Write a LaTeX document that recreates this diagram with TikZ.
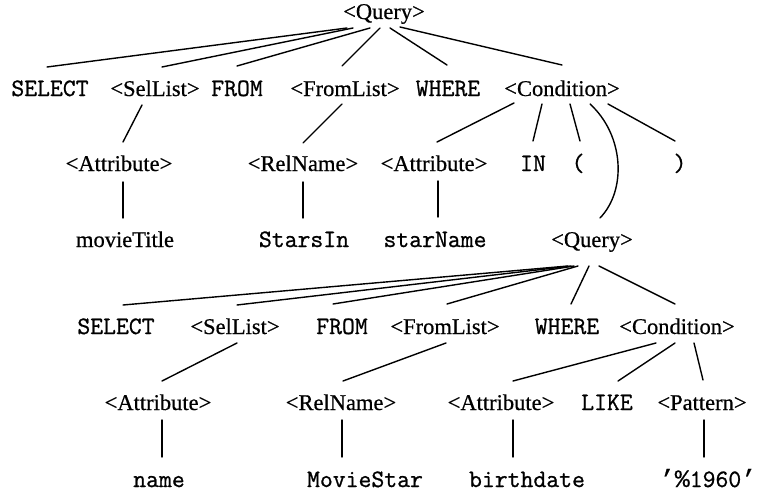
\documentclass[tikz,border=0pt]{standalone}
\usepackage{fontspec}
\setmainfont{Liberation Serif}[FakeBold=0.6]
\setmonofont{Latin Modern Mono}[FakeBold=0.9]
\newfontfamily\limono{Liberation Mono}[FakeBold=0.5]
\usetikzlibrary{calc}
\tikzset{
  nt/.style={inner sep=0pt, anchor=base, font=\fontsize{22.5}{27}\selectfont},
  tt/.style={inner sep=0pt, anchor=base, font=\fontsize{25}{27}\selectfont\ttfamily},
  br/.style={line width=1.4pt, line cap=round}
}
\newcommand\E[6]{\draw[br] ($(#1.base)+(#2)$) -- ($(#4.base)+(#5)$);}
\begin{document}
\begin{tikzpicture}[x=1pt,y=-1pt]
\useasboundingbox (0,0) rectangle (770,500);
% row 0
\node[nt] (q0) at (384,19) {<Query>};
% row 1
\node[tt] (s1) at (50,96) {SELECT};
\node[nt] (sl1) at (155,96) {<SelList>};
\node[tt] (f1) at (237,96) {FROM};
\node[nt] (fl1) at (345,96) {<FromList>};
\node[tt] (w1) at (448,96) {WHERE};
\node[nt] (c1) at (562,96) {<Condition>};
% row 2
\node[nt] (a2) at (119,171) {<Attribute>};
\node[nt] (r2) at (303,171) {<RelName>};
\node[nt] (a2b) at (434,171) {<Attribute>};
\node[tt] (in2) at (533,171) {IN};
\node[tt] (lp2) at (578,171) {(};
\node[tt] (rp2) at (680,171) {)};
% row 3
\node[nt] (mt3) at (125,247) {movieTitle};
\node[tt] (si3) at (304,247) {StarsIn};
\node[tt] (sn3) at (435,247) {starName};
\node[nt] (q3) at (592,247) {<Query>};
% row 4
\node[tt] (s4) at (116,334) {SELECT};
\node[nt] (sl4) at (235,334) {<SelList>};
\node[tt] (f4) at (342,334) {FROM};
\node[nt] (fl4) at (445,334) {<FromList>};
\node[tt] (w4) at (567,334) {WHERE};
\node[nt] (c4) at (677,334) {<Condition>};
% row 5
\node[nt] (a5) at (158,410) {<Attribute>};
\node[nt] (r5) at (341,410) {<RelName>};
\node[nt] (a5b) at (501,410) {<Attribute>};
\node[tt] (lk5) at (607,410) {LIKE};
\node[nt] (p5) at (702,410) {<Pattern>};
% row 6
\node[tt] (n6) at (159,487) {name};
\node[tt] (ms6) at (365,487) {MovieStar};
\node[tt] (bd6) at (527,487) {birthdate};
\node[tt] (pt6) at (708,487) {{\limono ’\%}1960{\limono ’}};
% edges
\E{q0}{-37,9}{}{s1}{-3,-29}{}
\E{q0}{-31,9}{}{sl1}{7,-29}{}
\E{q0}{-14,9}{}{f1}{0,-30}{}
\E{q0}{-4,9}{}{fl1}{-3,-30}{}
\E{q0}{6,9}{}{w1}{-1,-31}{}
\E{q0}{16,8}{}{c1}{0,-31}{}
\E{sl1}{-13,9}{}{a2}{4,-29}{}
\E{fl1}{-3,8}{}{r2}{0,-28}{}
\E{c1}{-48,7}{}{a2b}{3,-29}{}
\E{c1}{-20,8}{}{in2}{0,-30}{}
\E{c1}{8,8}{}{lp2}{2,-30}{}
\E{c1}{46,8}{}{rp2}{-5,-30}{}
\draw[br] ($(c1.base)+(28,8)$) .. controls ($(c1.base)+(62,39)$) and ($(q3.base)+(35,-57)$) .. ($(q3.base)+(8,-29)$);
\E{a2}{4,11}{}{mt3}{-2,-29}{}
\E{r2}{0,11}{}{si3}{-1,-29}{}
\E{a2b}{4,10}{}{sn3}{3,-30}{}
\E{q3}{-24,19}{}{s4}{7,-29}{}
\E{q3}{-21,19}{}{sl4}{2,-29}{}
\E{q3}{-18,19}{}{f4}{-9,-30}{}
\E{q3}{-14,19}{}{fl4}{2,-30}{}
\E{q3}{-3,19}{}{w4}{4,-30}{}
\E{q3}{7,19}{}{c4}{-2,-30}{}
\E{sl4}{2,9}{}{a5}{4,-29}{}
\E{fl4}{1,9}{}{r5}{2,-29}{}
\E{c4}{-21,9}{}{a5b}{12,-29}{}
\E{c4}{-2,9}{}{lk5}{11,-29}{}
\E{c4}{17,9}{}{p5}{1,-30}{}
\E{a5}{4,10}{}{n6}{3,-30}{}
\E{r5}{1,10}{}{ms6}{-23,-30}{}
\E{a5b}{12,10}{}{bd6}{-14,-30}{}
\E{p5}{2,10}{}{pt6}{-4,-30}{}
\end{tikzpicture}
\end{document}
